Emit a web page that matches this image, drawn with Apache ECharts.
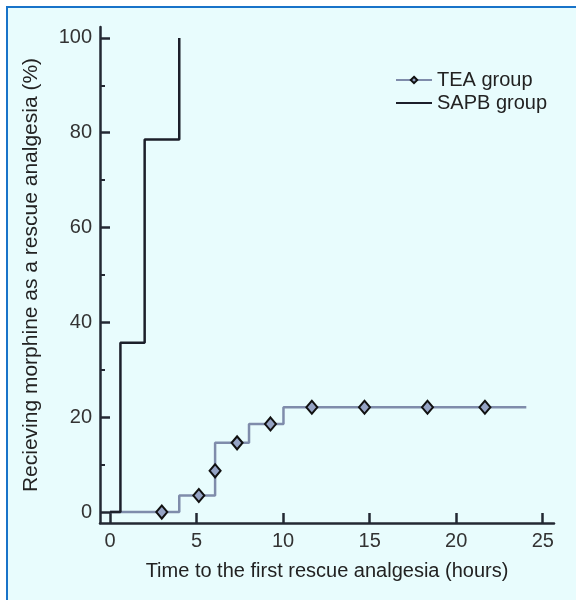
<!DOCTYPE html>
<html><head><meta charset="utf-8">
<script src="https://cdn.jsdelivr.net/npm/echarts@6/dist/echarts.min.js"></script>
<style>
html,body{margin:0;padding:0;background:#fff;width:576px;height:600px;overflow:hidden}
#frame{position:absolute;left:6px;top:6px;width:620px;height:640px;background:#e8fcfd;border-left:2px solid #1873c9;border-top:2px solid #1873c9}
#chart{position:absolute;left:0;top:0;width:576px;height:600px}
</style></head><body><div id="frame"></div><div id="chart"></div>
<script>
const sapbX = [0, 0.6, 2.0, 4.0];
const sapbY = [0, 35.7, 78.6, 100];
const teaStepX = [0, 4.0, 6.07, 8.03, 10.02, 24.05];
const teaStepY = [0, 3.5, 14.6, 18.6, 22.1, 22.1];
const teaMarkX = [2.99, 5.13, 6.07, 7.34, 9.27, 11.66, 14.7, 18.34, 21.66];
const teaMarkY = [0, 3.5, 8.7, 14.6, 18.6, 22.1, 22.1, 22.1, 22.1];
const xTicks = [0, 5, 10, 15, 20, 25];
const yTicks = [0, 20, 40, 60, 80, 100];
const yMinorTicks = [10, 30, 50, 70, 90];

const FONT = 'Liberation Sans, Arial, sans-serif';
const AX = '#232833';

const teaPts = [];
teaStepX.forEach((x, i) => teaPts.push({ value: [x, teaStepY[i]], symbol: 'none' }));
teaMarkX.forEach((x, i) => teaPts.push({ value: [x, teaMarkY[i]] }));
teaPts.sort((a, b) => a.value[0] - b.value[0] || a.value[1] - b.value[1]);

const sapbPts = sapbX.map((x, i) => [x, sapbY[i]]);

const chart = echarts.init(document.getElementById('chart'), null, { renderer: 'canvas' });
chart.setOption({
  animation: false,
  backgroundColor: 'transparent',
  textStyle: { fontFamily: FONT },
  grid: { left: 100, right: 22, top: 27, bottom: 77, containLabel: false },
  legend: {
    orient: 'vertical', left: 395, top: 70, padding: 0,
    itemWidth: 36, itemHeight: 8, itemGap: 3,
    textStyle: { fontSize: 20, color: '#222', fontFamily: FONT },
    data: [
      { name: 'TEA group' },
      { name: 'SAPB group', itemStyle: { opacity: 0 } }
    ]
  },
  xAxis: {
    type: 'value', min: -0.58, max: 25.65,
    name: 'Time to the first rescue analgesia (hours)',
    nameLocation: 'middle', nameGap: 38,
    nameTextStyle: { fontSize: 20, color: '#222', fontFamily: FONT },
    axisLine: { onZero: false, lineStyle: { color: AX, width: 2.5 } },
    axisTick: { inside: true, length: 10, customValues: xTicks, lineStyle: { color: AX, width: 2.5 } },
    axisLabel: { customValues: xTicks, fontSize: 20, color: '#333', margin: 8, fontFamily: FONT },
    splitLine: { show: false }
  },
  yAxis: [{
    type: 'value', min: -2.3, max: 102.3,
    name: 'Recieving morphine as a rescue analgesia (%)',
    nameLocation: 'middle', nameGap: 58,
    nameTextStyle: { fontSize: 21, color: '#222', fontFamily: FONT },
    axisLine: { onZero: false, lineStyle: { color: AX, width: 2.5 } },
    axisTick: { inside: true, length: 10, customValues: yTicks, lineStyle: { color: AX, width: 2.5 } },
    axisLabel: { customValues: yTicks, fontSize: 20, color: '#333', margin: 8, fontFamily: FONT },
    splitLine: { show: false }
  }, {
    type: 'value', min: -2.3, max: 102.3, position: 'left', offset: 0,
    axisLine: { show: false, onZero: false },
    axisTick: { show: true, inside: true, length: 5, customValues: yMinorTicks, lineStyle: { color: AX, width: 2 } },
    axisLabel: { show: false },
    splitLine: { show: false }
  }],
  series: [{
    name: 'TEA group', type: 'line', step: 'end', yAxisIndex: 0,
    data: teaPts,
    symbol: 'diamond', symbolSize: [11, 13], showSymbol: true,
    lineStyle: { color: '#7f8cab', width: 2.5 },
    itemStyle: { color: '#95a3c4', borderColor: '#111', borderWidth: 2 },
    z: 2
  }, {
    name: 'SAPB group', type: 'line', step: 'end', yAxisIndex: 0,
    data: sapbPts,
    symbol: 'none',
    lineStyle: { color: '#1c1f2a', width: 2.5 },
    itemStyle: { color: '#1c1f2a' },
    z: 3
  }]
});
</script></body></html>
